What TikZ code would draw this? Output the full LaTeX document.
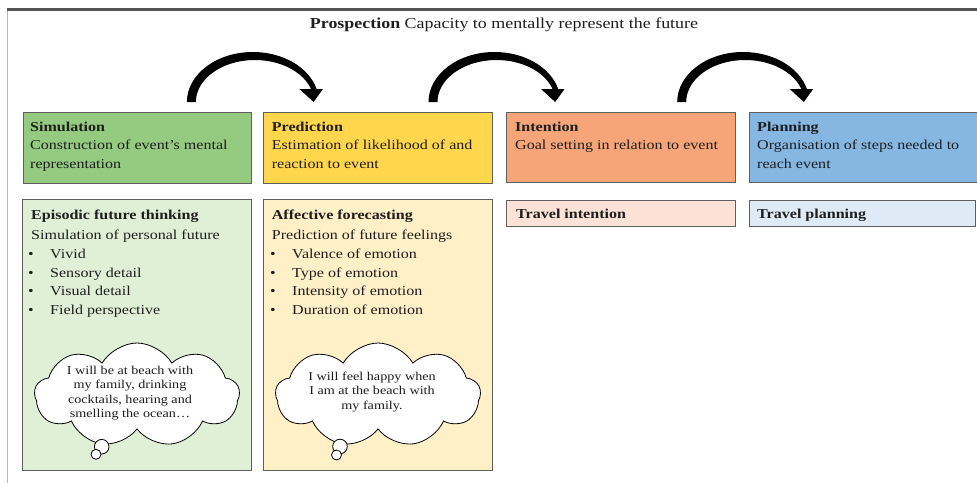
\documentclass[tikz,border=0pt]{standalone}
\usepackage{fontspec}
\setmainfont{Liberation Serif}[FakeStretch=1.18]
\usetikzlibrary{shapes.symbols,calc}
\definecolor{simgreen}{RGB}{148,203,128}
\definecolor{predyellow}{RGB}{255,214,76}
\definecolor{intorange}{RGB}{245,165,120}
\definecolor{planblue}{RGB}{134,182,226}
\definecolor{lgreen}{RGB}{223,240,215}
\definecolor{lyellow}{RGB}{255,240,200}
\definecolor{lorange}{RGB}{252,226,214}
\definecolor{lblue}{RGB}{222,235,247}
\definecolor{boxline}{RGB}{95,95,95}
\definecolor{framedark}{RGB}{85,85,85}
\definecolor{framelight}{RGB}{185,185,185}
\definecolor{txt}{RGB}{30,30,30}
\newcommand\bodyfs{\fontsize{13.6}{18}\selectfont}
\newcommand\cloudfs{\fontsize{12}{14.3}\selectfont}
\begin{document}
\begin{tikzpicture}[x=1pt,y=-1pt,
  box/.style={draw=boxline, line width=0.9pt, inner sep=0pt, anchor=north west},
  tx/.style={anchor=base west, inner sep=0pt, font=\bodyfs, text=txt},
  hd/.style={tx, font=\bodyfs\bfseries},
  thought/.style={cloud, cloud puffs=9, cloud puff arc=120, cloud ignores aspect, draw=black, line width=0.8pt, fill=white, inner sep=0pt},
  ctext/.style={align=center, font=\cloudfs, inner sep=0pt, text=txt},
  bubble/.style={circle, draw=black, line width=0.8pt, fill=white, inner sep=0pt},
  bigarrow/.style={fill=black}]
\useasboundingbox (0,0) rectangle (977,482);
% frame
\draw[line width=2.5pt, draw=framedark] (6.5,9.3) -- (978,9.3);
\draw[line width=1.3pt, draw=framelight] (7.5,10.5) -- (7.5,483);
% title
\node[anchor=base, inner sep=0pt, font=\fontsize{15.2}{18}\selectfont, text=txt] (title) at (504,28.7) {\textbf{Prospection} Capacity to mentally represent the future};
% top boxes
\node[box, fill=simgreen, minimum width=228pt, minimum height=71.5pt] (sim) at (22.7,111.7) {};
\node[box, fill=predyellow, minimum width=229pt, minimum height=71.5pt] (pred) at (263.3,111.7) {};
\node[box, fill=intorange, minimum width=229pt, minimum height=70pt] (int) at (506,111.7) {};
\node[box, fill=planblue, minimum width=230pt, minimum height=70pt] (plan) at (749.3,111.7) {};
% lower boxes
\node[box, fill=lgreen, minimum width=228.4pt, minimum height=271pt] (epi) at (22.3,199.3) {};
\node[box, fill=lyellow, minimum width=229pt, minimum height=271pt] (aff) at (263.3,199.3) {};
\node[box, fill=lorange, minimum width=229pt, minimum height=26pt] (tint) at (506,200) {};
\node[box, fill=lblue, minimum width=225.7pt, minimum height=26pt] (tplan) at (749.3,200) {};
% top box texts
\node[hd] (simh) at (30,131) {Simulation};
\node[tx] (sim1) at (30,149.5) {Construction of event's mental};
\node[tx] (sim2) at (30,168.3) {representation};
\node[hd] (predh) at (271.7,131) {Prediction};
\node[tx] (pred1) at (271.7,149.5) {Estimation of likelihood of and};
\node[tx] (pred2) at (271.7,168.3) {reaction to event};
\node[hd] (inth) at (515,131) {Intention};
\node[tx] (int1) at (515,149.5) {Goal setting in relation to event};
\node[hd] (planh) at (757,131) {Planning};
\node[tx] (plan1) at (757,149.5) {Organisation of steps needed to};
\node[tx] (plan2) at (757,168.3) {reach event};
% lower box texts
\node[hd] (epih) at (31,219.7) {Episodic future thinking};
\node[tx] (epi1) at (31,239) {Simulation of personal future};
\foreach \i/\t/\yy in {a/Vivid/258.3, b/Sensory detail/277.3, c/Visual detail/295.8, d/Field perspective/314.3}{
  \node[tx] (epib\i) at (28,\yy) {•};
  \node[tx] (epit\i) at (50,\yy) {\t};
}
\node[hd] (affh) at (271.7,219.7) {Affective forecasting};
\node[tx] (aff1) at (271.7,239) {Prediction of future feelings};
\foreach \i/\t/\yy in {a/Valence of emotion/258.3, b/Type of emotion/277.3, c/Intensity of emotion/295.8, d/Duration of emotion/314.3}{
  \node[tx] (affb\i) at (270,\yy) {•};
  \node[tx] (afft\i) at (292,\yy) {\t};
}
\node[hd] (tinth) at (516,218.3) {Travel intention};
\node[hd] (tplanh) at (757,218.3) {Travel planning};
% thought clouds
\node[thought, minimum width=205pt, minimum height=104pt] (c1) at (137,395) {};
\node[ctext] (c1t) at (130,393) {I will be at beach with\\my family, drinking\\cocktails, hearing and\\smelling the ocean…};
\node[bubble, minimum size=14.6pt] (c1b1) at (101.7,446.7) {};
\node[bubble, minimum size=10pt] (c1b2) at (96,454.3) {};
\node[thought, minimum width=205pt, minimum height=104pt] (c2) at (378,395) {};
\node[ctext] (c2t) at (372,392) {I will feel happy when\\I am at the beach with\\my family.};
\node[bubble, minimum size=14.6pt] (c2b1) at (340,446.5) {};
\node[bubble, minimum size=10pt] (c2b2) at (336.5,455) {};
% curved arrows between the top boxes
\foreach \n/\dx in {sim/0, pred/0, int/6}{
  \begin{scope}[shift={($(\n.north east)+(\dx,0)$)}]
    \fill[bigarrow] (-64.7,-9.7) arc[start angle=180, end angle=15.07, x radius=66pt, y radius=50pt]
      -- (71.3,-22.7) -- (62,-9.7) -- (47.8,-22.7) -- (59.4,-22.7)
      arc[start angle=18.03, end angle=180, x radius=59pt, y radius=42pt] -- cycle;
  \end{scope}
}
\end{tikzpicture}
\end{document}
